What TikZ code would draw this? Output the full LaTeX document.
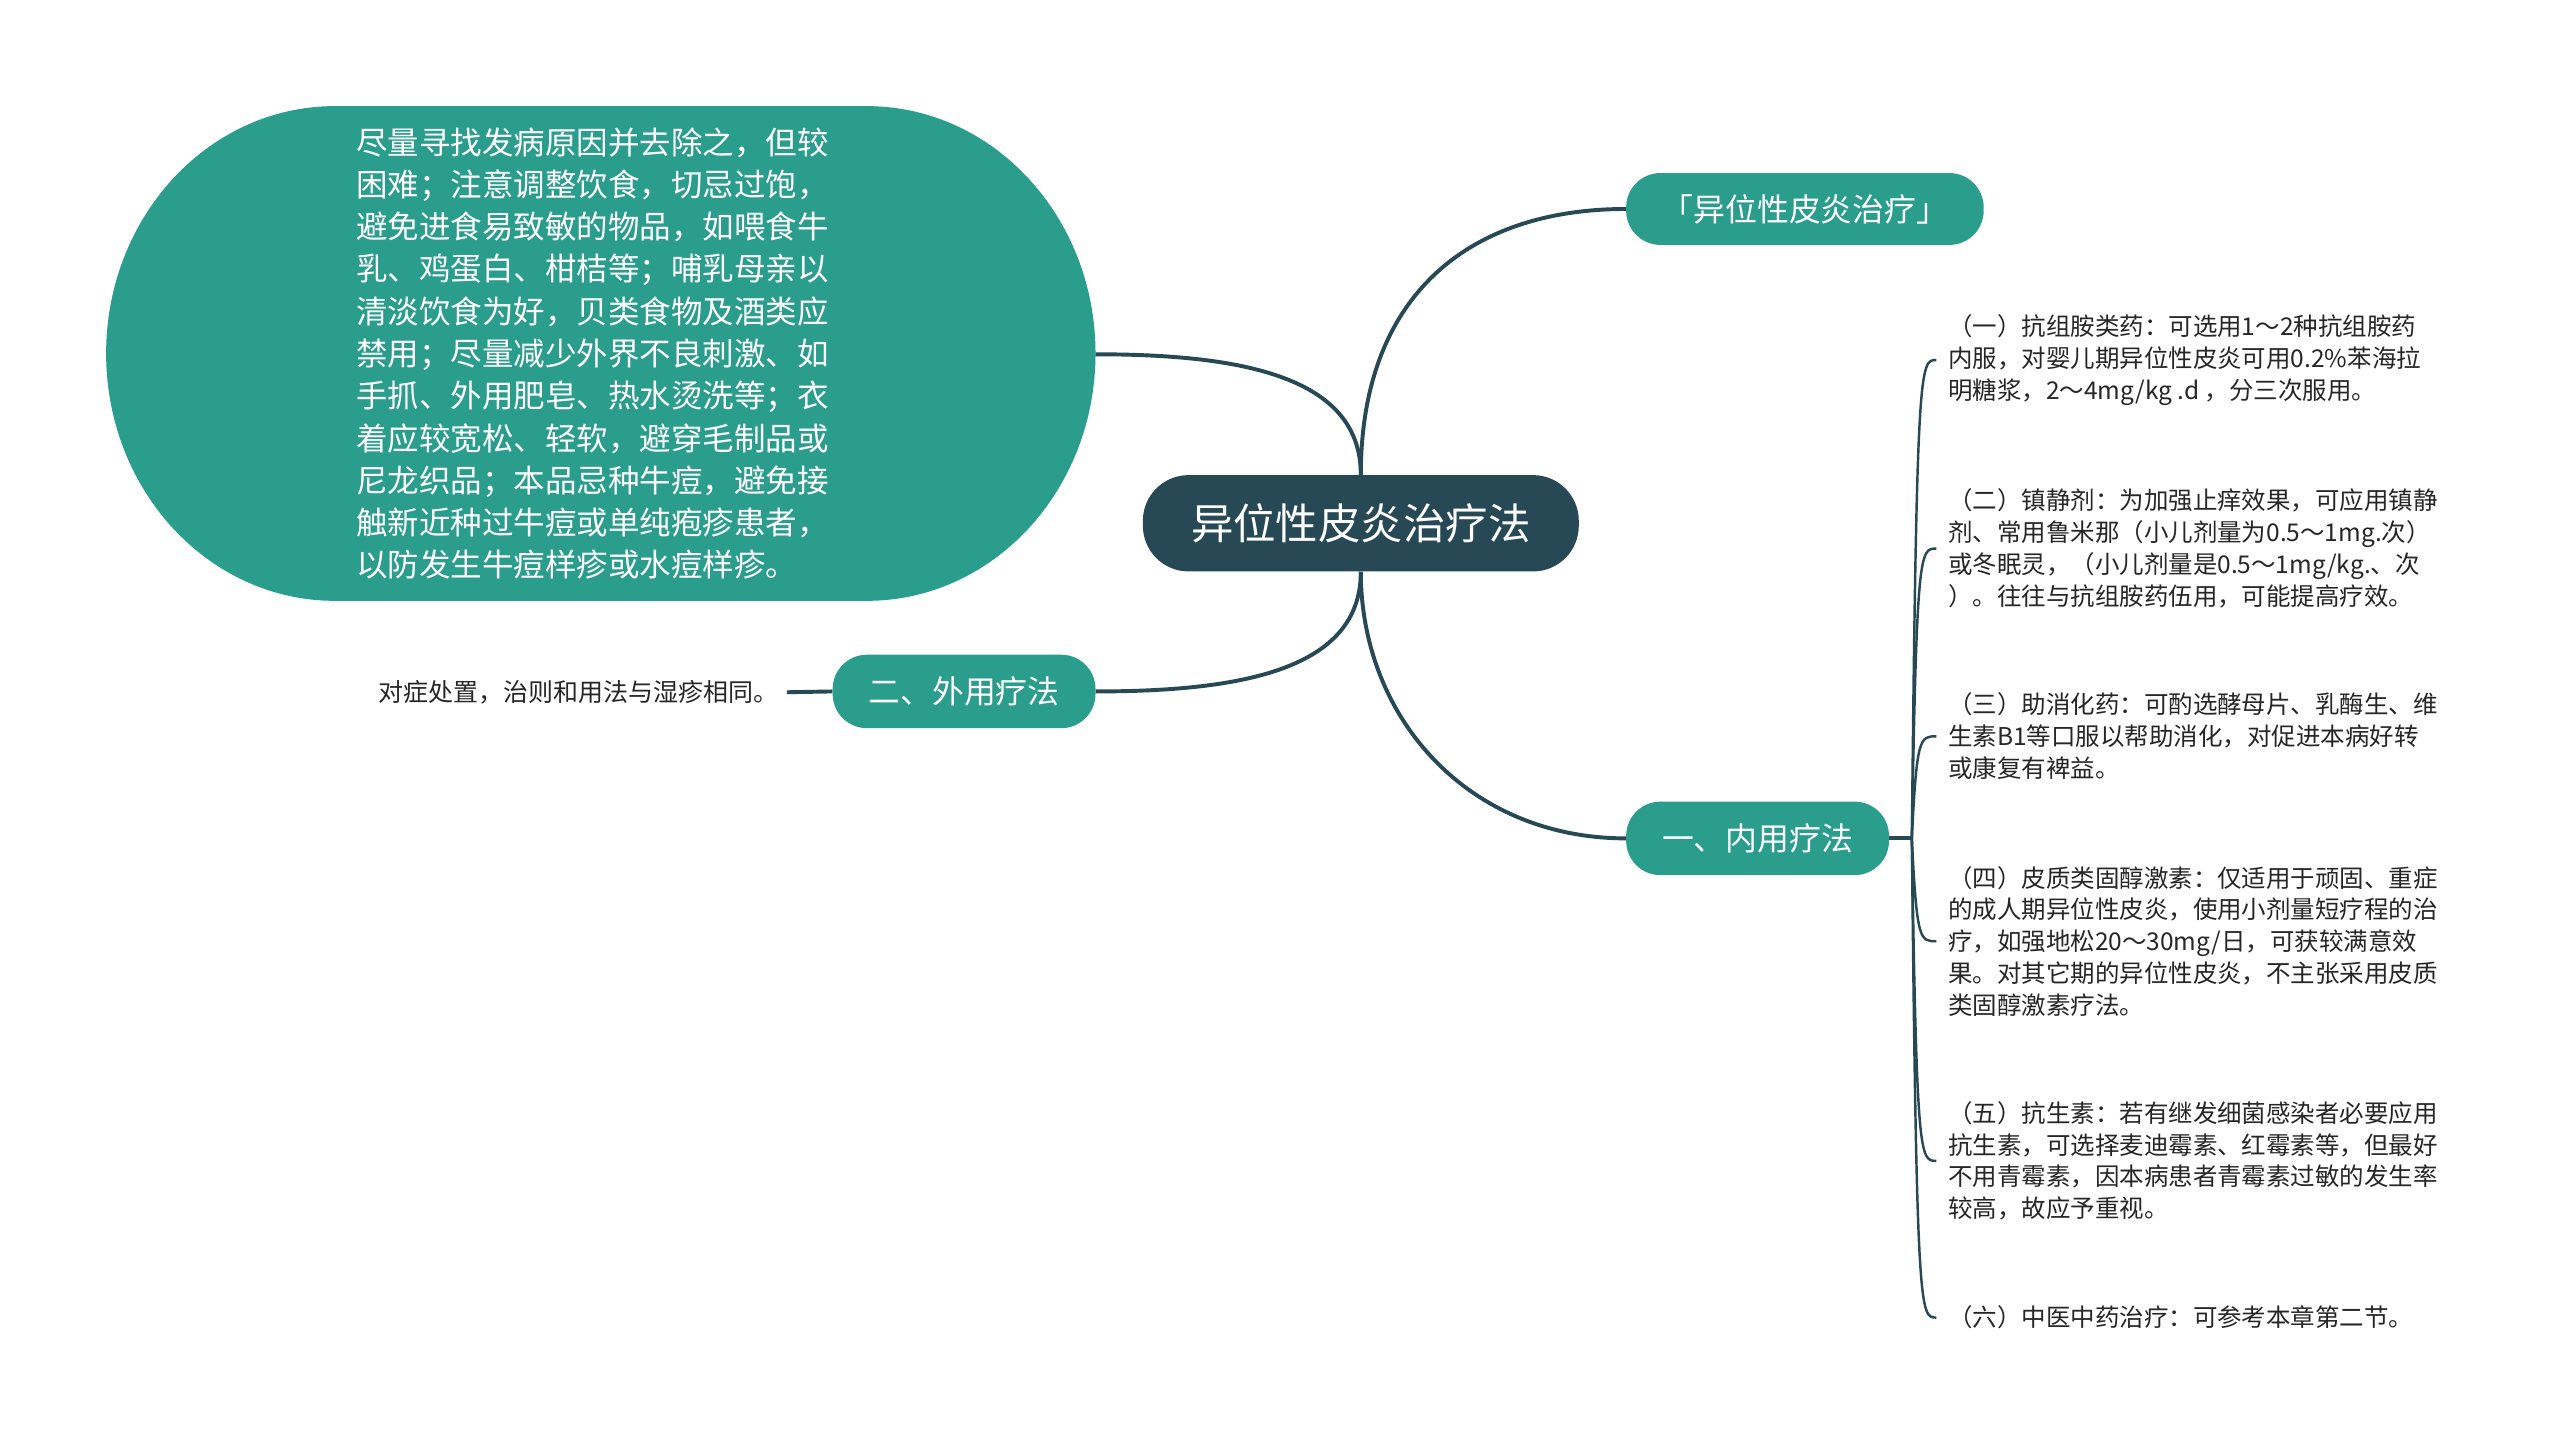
\documentclass[tikz,border=0pt]{standalone}
\usepackage{fontspec}
\setmainfont{Noto Sans CJK SC}
\definecolor{teal1}{HTML}{2A9D8C}
\definecolor{dark1}{HTML}{274955}
\definecolor{txt1}{HTML}{262626}
\begin{document}
\begin{tikzpicture}[x=1pt,y=-1pt,
  pill/.style={fill=teal1, text=white, rounded corners=21pt, minimum height=45pt, minimum width=161pt, inner sep=0pt, font=\fontsize{19.5}{19.5}\selectfont},
  root/.style={fill=dark1, text=white, rounded corners=28pt, minimum width=267pt, minimum height=59pt, inner sep=0pt, font=\fontsize{26}{26}\selectfont},
  conn/.style={draw=dark1, line width=2.4pt},
  br/.style={draw=dark1, line width=1.5pt},
  leaf/.style={anchor=west, align=left, inner xsep=7pt, inner ysep=0pt, text=txt1, font=\fontsize{15}{19.5}\selectfont},
  blobtext/.style={align=left, inner sep=0pt, text=white, font=\fontsize{19.3}{25.9}\selectfont}
]
\fill[white] (0,0) rectangle (1568,889);
\useasboundingbox (0,0) rectangle (1568,889);

% left blob
\fill[teal1] (205,65) -- (531,65) arc[start angle=90, end angle=-90, x radius=140pt, y radius=151.5pt]
  -- (205,368) arc[start angle=270, end angle=90, x radius=140pt, y radius=151.5pt] -- cycle;
\node[blobtext] (blob) at (363,216.5) {尽量寻找发病原因并去除之，但较\\困难；注意调整饮食，切忌过饱，\\避免进食易致敏的物品，如喂食牛\\乳、鸡蛋白、柑桔等；哺乳母亲以\\清淡饮食为好，贝类食物及酒类应\\禁用；尽量减少外界不良刺激、如\\手抓、外用肥皂、热水烫洗等；衣\\着应较宽松、轻软，避穿毛制品或\\尼龙织品；本品忌种牛痘，避免接\\触新近种过牛痘或单纯疱疹患者，\\以防发生牛痘样疹或水痘样疹。};
\coordinate (blobR) at (671,217);

% main nodes
\node[root] (c) at (833.5,320.5) {异位性皮炎治疗法};
\node[pill, minimum width=219pt, minimum height=44pt] (top) at (1105.5,128) {「异位性皮炎治疗」};
\node[pill] (inner) at (1076.5,513.5) {一、内用疗法};
\node[pill] (ext) at (590.5,423.5) {二、外用疗法};
\node[inner sep=0pt, anchor=east, text=txt1, font=\fontsize{15.3}{15.3}\selectfont] (extt) at (477,424) {对症处置，治则和用法与湿疹相同。};

% main connectors
\draw[conn] (c.north) .. controls +(0,-110) and +(-96,0) .. (top.west);
\draw[conn] (c.north) .. controls +(0,-60) and +(90,0) .. (blobR);
\draw[conn] (c.south) .. controls +(0,60) and +(89,0) .. (ext.west -| ext.east);
\draw[conn] (c.south) .. controls +(0,90) and +(-96,0) .. (inner.west);
\draw[conn] (extt.east) ++(5,0) -- (ext.west);

% right leaves
\node[leaf] (b1) at (1186,220.5) {（一）抗组胺类药：可选用1～2种抗组胺药\\内服，对婴儿期异位性皮炎可用0.2\%苯海拉\\明糖浆，2～4mg/kg .d ，分三次服用。};
\node[leaf] (b2) at (1186,336) {（二）镇静剂：为加强止痒效果，可应用镇静\\剂、常用鲁米那（小儿剂量为0.5～1mg.次）\\或冬眠灵，（小儿剂量是0.5～1mg/kg.、次\\）。往往与抗组胺药伍用，可能提高疗效。};
\node[leaf] (b3) at (1186,451) {（三）助消化药：可酌选酵母片、乳酶生、维\\生素B1等口服以帮助消化，对促进本病好转\\或康复有裨益。};
\node[leaf] (b4) at (1186,576.5) {（四）皮质类固醇激素：仅适用于顽固、重症\\的成人期异位性皮炎，使用小剂量短疗程的治\\疗，如强地松20～30mg/日，可获较满意效\\果。对其它期的异位性皮炎，不主张采用皮质\\类固醇激素疗法。};
\node[leaf] (b5) at (1186,711) {（五）抗生素：若有继发细菌感染者必要应用\\抗生素，可选择麦迪霉素、红霉素等，但最好\\不用青霉素，因本病患者青霉素过敏的发生率\\较高，故应予重视。};
\node[leaf] (b6) at (1186,807) {（六）中医中药治疗：可参考本章第二节。};

\coordinate (trunk) at (1171,513.5);
\draw[conn] (inner.east) -- (trunk);
\foreach \b in {b1,b2,b3,b4,b5,b6}{
  \draw[br] (trunk) .. controls ([xshift=3pt]trunk |- \b.west) and +(-10,0) .. (\b.west);
}
\end{tikzpicture}
\end{document}
